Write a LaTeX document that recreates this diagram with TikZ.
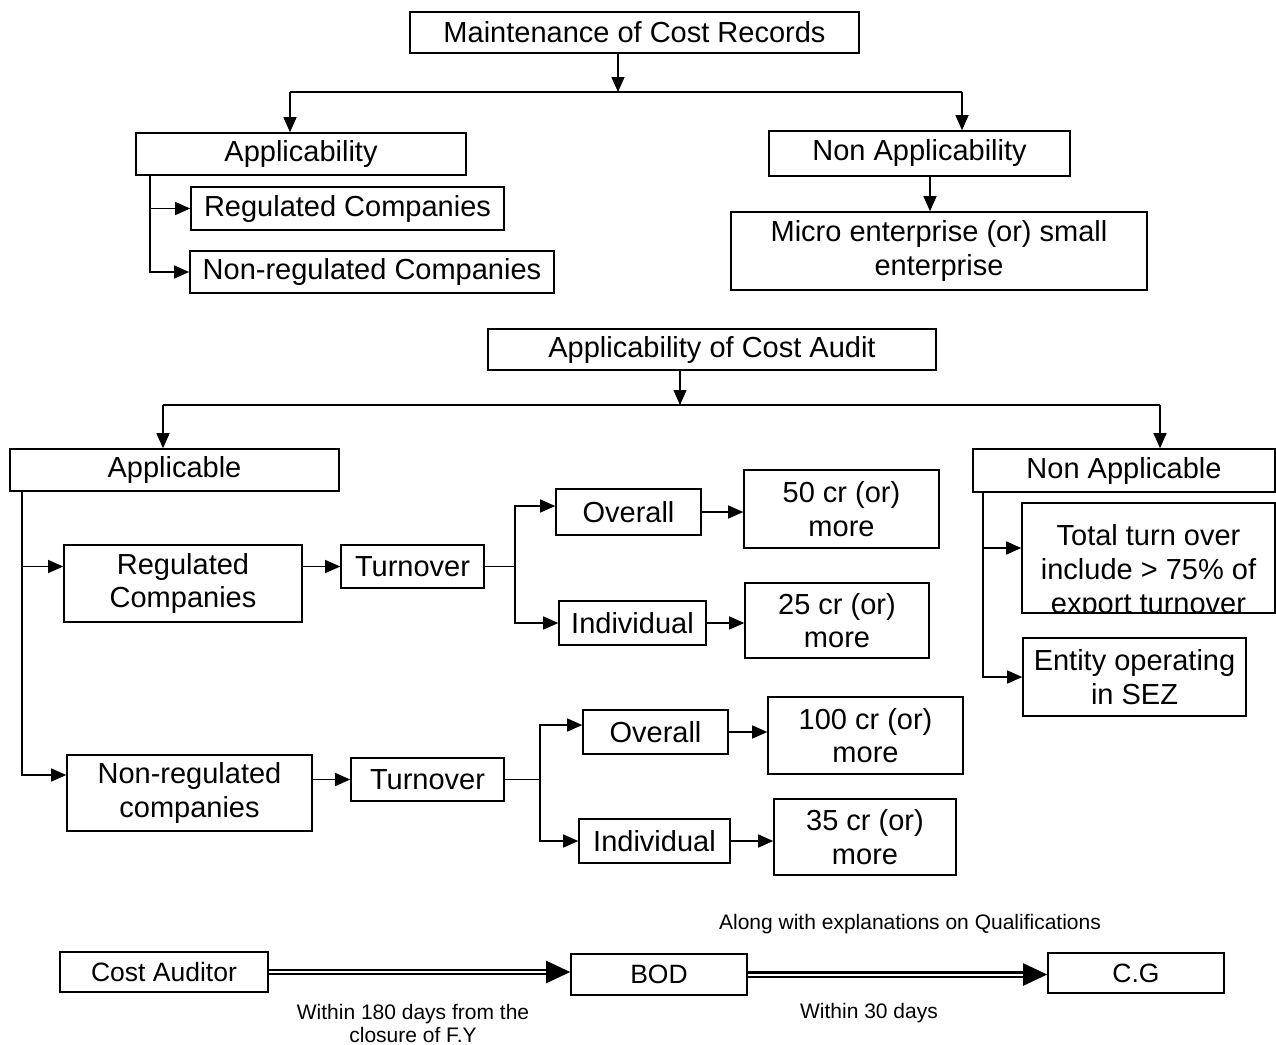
\documentclass[tikz,border=0pt]{standalone}
\usepackage{fontspec}
\setmainfont{Liberation Sans}
\usetikzlibrary{arrows.meta}
\begin{document}
\begin{tikzpicture}[x=1pt,y=-1pt,
  box/.style={draw, line width=1.6pt, inner sep=0pt, align=center, font={\fontsize{29}{33.5}\selectfont}},
  sbox/.style={draw, line width=1.6pt, inner sep=0pt, align=center, font={\fontsize{26.5}{30}\selectfont}},
  txt/.style={inner sep=0pt, align=center, font={\fontsize{29}{34}\selectfont}},
  small/.style={inner sep=0pt, align=center, font={\fontsize{21}{23}\selectfont}},
  line/.style={line width=1.3pt},
  arr/.style={line width=1.3pt, -{Triangle[length=15pt,width=13pt]}},
  dbl/.style={line width=2.4pt, double, double distance=2pt, -{Triangle[length=24pt,width=22pt]}}
]
\useasboundingbox (0,0) rectangle (1276,1044);

% ---------- Maintenance of cost records ----------
\node[box, minimum width=449pt, minimum height=41pt] (mcr) at (634.5,32.5) {Maintenance of Cost Records};
\coordinate (j1) at (618,92);
\coordinate (j1l) at (290,92);
\coordinate (j1r) at (962,92);
\node[box, minimum width=330pt, minimum height=42pt] (appl) at (301,154) {Applicability};
\node[box, minimum width=301pt, minimum height=45pt] (napl) at (919.5,153.5) {Non Applicability};
\draw[arr] (mcr.south -| j1) -- (j1);
\draw[line] (j1l) -- (j1r);
\draw[arr] (j1l) -- (j1l |- appl.north);
\draw[arr] (j1r) -- (j1r |- napl.north);

\coordinate (av) at (150,0);
\node[box, minimum width=313pt, minimum height=43pt] (reg1) at (347.5,208.5) {Regulated Companies};
\node[box, minimum width=364pt, minimum height=42pt] (nreg1) at (372,272) {Non-regulated Companies};
\draw[arr] (appl.south -| av) |- (nreg1.west);
\draw[arr] (reg1.west -| av) -- (reg1.west);

\coordinate (nv) at (930,0);
\node[box, minimum width=416pt, minimum height=78pt] (micro) at (939,251) {Micro enterprise (or) small\\enterprise};
\draw[arr] (napl.south -| nv) -- (micro.north -| nv);

% ---------- Applicability of cost audit ----------
\node[box, minimum width=448pt, minimum height=41pt] (aca) at (712,349.5) {Applicability of Cost Audit};
\coordinate (j2) at (680,405);
\coordinate (j2l) at (163,405);
\coordinate (j2r) at (1160,405);
\node[box, minimum width=329pt, minimum height=42pt] (apl) at (174.5,470) {Applicable};
\node[box, minimum width=302pt, minimum height=43pt] (napl2) at (1124,470.5) {Non Applicable};
\draw[arr] (aca.south -| j2) -- (j2);
\draw[line] (j2l) -- (j2r);
\draw[arr] (j2l) -- (j2l |- apl.north);
\draw[arr] (j2r) -- (j2r |- napl2.north);

% Applicable branch
\coordinate (av2) at (22,0);
\node[box, minimum width=238pt, minimum height=77pt] (reg2) at (183,583.5) {Regulated\\Companies};
\node[box, minimum width=245pt, minimum height=76pt] (nreg2) at (189.5,793) {Non-regulated\\companies};
\draw[arr] (apl.south -| av2) |- ([yshift=18pt]nreg2.west);
\draw[arr] ([yshift=17pt]reg2.west -| av2) -- ([yshift=17pt]reg2.west);

% Regulated -> turnover
\node[box, minimum width=143pt, minimum height=43pt] (to1) at (412.5,566.5) {Turnover};
\node[box, minimum width=145pt, minimum height=46pt] (ov1) at (628.5,512) {Overall};
\node[box, minimum width=147pt, minimum height=44pt] (ind1) at (632.5,623) {Individual};
\node[box, minimum width=195pt, minimum height=78pt] (c50) at (841.5,509) {50 cr (or)\\more};
\node[box, minimum width=184pt, minimum height=75pt] (c25) at (837,620.5) {25 cr (or)\\more};
\coordinate (t1v) at (515,0);
\draw[arr] (reg2.east |- to1.west) -- (to1.west);
\draw[line] (to1.east) -- (to1.east -| t1v);
\draw[arr] (to1.east -| t1v) |- ([yshift=6pt]ov1.west);
\draw[arr] (to1.east -| t1v) |- (ind1.west);
\draw[arr] (ov1.east) -- (ov1.east -| c50.west);
\draw[arr] (ind1.east) -- (ind1.east -| c25.west);

% Non-regulated -> turnover
\node[box, minimum width=153pt, minimum height=43pt] (to2) at (427.5,779.5) {Turnover};
\node[box, minimum width=145pt, minimum height=44pt] (ov2) at (655.5,732) {Overall};
\node[box, minimum width=151pt, minimum height=44pt] (ind2) at (654.5,841) {Individual};
\node[box, minimum width=195pt, minimum height=77pt] (c100) at (865.5,735.5) {100 cr (or)\\more};
\node[box, minimum width=182pt, minimum height=76pt] (c35) at (865,837) {35 cr (or)\\more};
\coordinate (t2v) at (540,0);
\draw[arr] (nreg2.east |- to2.west) -- (to2.west);
\draw[line] (to2.east) -- (to2.east -| t2v);
\draw[arr] (to2.east -| t2v) |- ([yshift=7pt]ov2.west);
\draw[arr] (to2.east -| t2v) |- (ind2.west);
\draw[arr] (ov2.east) -- (ov2.east -| c100.west);
\draw[arr] (ind2.east) -- (ind2.east -| c35.west);

% Non applicable branch
\coordinate (nav) at (983,0);
\node[box, minimum width=253pt, minimum height=110pt] (tto) at (1148.5,558) {};
\begin{scope}
  \clip (tto.south west) rectangle (tto.north east);
  \node[txt] (ttotxt) at (1148.5,572) {Total turn over\\include > 75\% of\\export turnover};
\end{scope}
\node[box, minimum width=223pt, minimum height=78pt] (sez) at (1134.5,677) {Entity operating\\in SEZ};
\draw[arr] (napl2.south -| nav) |- (sez.west);
\draw[arr] ([yshift=10pt]tto.west -| nav) -- ([yshift=10pt]tto.west);

% ---------- Bottom flow ----------
\node[sbox, minimum width=208pt, minimum height=40pt] (ca) at (164,972) {Cost Auditor};
\node[sbox, minimum width=176pt, minimum height=41pt] (bod) at (659,974.5) {BOD};
\node[sbox, minimum width=176pt, minimum height=40pt] (cg) at (1136,973) {C.G};
\draw[dbl] (ca.east) -- (ca.east -| bod.west);
\draw[dbl] (bod.east) -- (bod.east -| cg.west);
\node[small] (l1) at (413,1023) {Within 180 days from the\\closure of F.Y};
\node[small] (l2) at (869,1013) {Within 30 days};
\node[small] (l3) at (910,924) {Along with explanations on Qualifications};
\end{tikzpicture}
\end{document}
